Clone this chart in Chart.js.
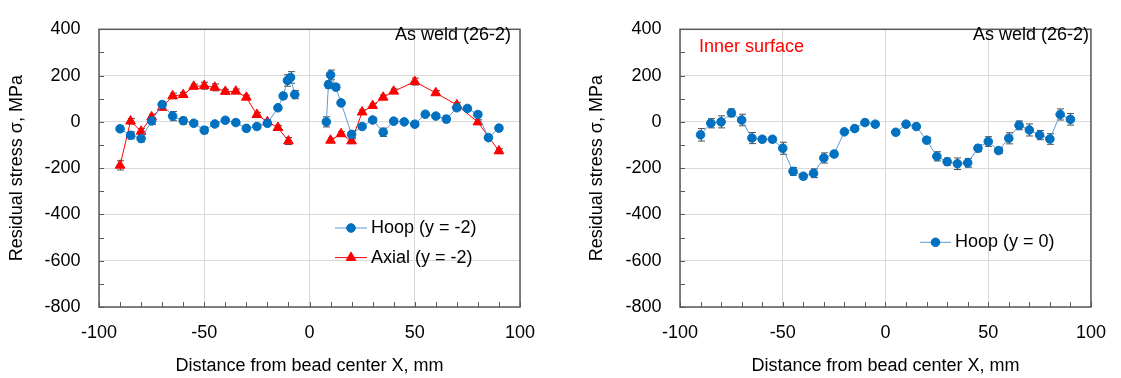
<!DOCTYPE html>
<html>
<head>
<meta charset="utf-8">
<script src="https://cdn.jsdelivr.net/npm/chart.js@4.4.1/dist/chart.umd.min.js"></script>
<style>
  body { margin: 0; background: #fff; }
  #wrap { position: relative; width: 1121px; height: 378px; }
  canvas { position: absolute; top: 0; }
  #left { left: 0; }
  #right { left: 560px; }
</style>
</head>
<body>
<div id="wrap">
  <canvas id="left" width="560" height="378"></canvas>
  <canvas id="right" width="561" height="378"></canvas>
</div>
<script>
// x positions (mm), null marks the gap at the weld bead
var hoopLeftX = [-90, -85, -80, -75, -70, -65, -60, -55, -50, -45, -40, -35, -30, -25, -20, -15, -12.5, -10.5, -9, -7,
    0, 8, 9, 10, 12.5, 15, 20, 25, 30, 35, 40, 45, 50, 55, 60, 65, 70, 75, 80, 85, 90];
var hoopLeftY = [-30, -58, -72, 4, 75, 25, 5, -6, -36, -9, 7, -3, -28, -20, -6, 61, 112, 179, 192, 118,
    null, 0, 161, 203, 150, 82, -54, -20, 8, -45, 3, 0, -10, 33, 25, 12, 61, 58, 32, -68, -27];
var hoopLeftErr = [12, 15, 15, 15, 12, 20, 15, 10, 15, 10, 10, 10, 12, 10, 10, 10, 12, 25, 25, 18,
    0, 22, 15, 21, 12, 10, 15, 10, 10, 18, 10, 10, 10, 10, 10, 15, 10, 10, 10, 10, 10];

var axialLeftX = [-90, -85, -80, -75, -70, -65, -60, -55, -50, -45, -40, -35, -30, -25, -20, -15, -10,
    0, 10, 15, 20, 25, 30, 35, 40, 50, 60, 70, 80, 90];
var axialLeftY = [-188, 3, -41, 21, 62, 112, 117, 153, 156, 149, 131, 132, 106, 31, 0, -25, -83,
    null, -80, -52, -83, 42, 70, 106, 132, 174, 125, 73, -1, -126];
var axialLeftErr = [20, 12, 12, 12, 10, 12, 10, 10, 15, 15, 10, 10, 10, 10, 10, 10, 15,
    0, 10, 10, 10, 10, 10, 10, 10, 15, 10, 10, 10, 10];

var hoopRightX = [-90, -85, -80, -75, -70, -65, -60, -55, -50, -45, -40, -35, -30, -25, -20, -15, -10, -5,
    0, 5, 10, 15, 20, 25, 30, 35, 40, 45, 50, 55, 60, 65, 70, 75, 80, 85, 90];
var hoopRightY = [-56, -6, 0, 39, 8, -70, -75, -75, -114, -214, -235, -222, -156, -139, -43, -29, -3, -10,
    null, -45, -10, -20, -79, -149, -172, -181, -177, -114, -85, -124, -71, -15, -35, -57, -74, 32, 11];
var hoopRightErr = [27, 20, 26, 17, 25, 24, 12, 12, 26, 17, 12, 19, 22, 12, 10, 10, 10, 10,
    0, 10, 10, 10, 12, 20, 15, 25, 19, 15, 21, 12, 24, 19, 26, 20, 23, 24, 25];

var xTicks = [-100, -50, 0, 50, 100];
var yTicks = [-800, -600, -400, -200, 0, 200, 400];

var FONT = 'Liberation Sans, Arial, sans-serif';
var BLUE = '#0070C0';
var BLUE_LINE = '#5b9bd5';
var RED = '#ff0000';

function toPoints(xs, ys) {
    var pts = [];
    for (var i = 0; i < xs.length; i++) {
        pts.push({ x: xs[i], y: ys[i] });
    }
    return pts;
}

function hoopSet(label, xs, ys, errs) {
    return {
        label: label,
        data: toPoints(xs, ys),
        errors: errs,
        borderColor: BLUE_LINE,
        borderWidth: 1,
        backgroundColor: BLUE,
        pointBackgroundColor: BLUE,
        pointBorderColor: BLUE,
        pointBorderWidth: 1,
        pointRadius: 4.3,
        pointStyle: 'circle',
        tension: 0
    };
}

function axialSet(label, xs, ys, errs) {
    return {
        label: label,
        data: toPoints(xs, ys),
        errors: errs,
        borderColor: RED,
        borderWidth: 1,
        backgroundColor: RED,
        pointBackgroundColor: RED,
        pointBorderColor: RED,
        pointBorderWidth: 1,
        pointRadius: 5.6,
        pointStyle: 'triangle',
        tension: 0
    };
}

// frame, inward ticks, error bars, legend and notes
var decorPlugin = {
    id: 'decor',
    beforeDatasetsDraw: function(chart) {
        var ctx = chart.ctx;
        var xs = chart.scales.x, ys = chart.scales.y;
        ctx.save();
        ctx.strokeStyle = '#505050';
        ctx.lineWidth = 1;
        chart.data.datasets.forEach(function(ds) {
            ds.data.forEach(function(p, j) {
                if (p.y === null) return;
                var e = ds.errors[j];
                var px = Math.round(xs.getPixelForValue(p.x)) + 0.5;
                var top = ys.getPixelForValue(p.y + e);
                var bot = ys.getPixelForValue(p.y - e);
                ctx.beginPath();
                ctx.moveTo(px, top); ctx.lineTo(px, bot);
                ctx.moveTo(px - 3.5, top); ctx.lineTo(px + 3.5, top);
                ctx.moveTo(px - 3.5, bot); ctx.lineTo(px + 3.5, bot);
                ctx.stroke();
            });
        });
        ctx.restore();
    },
    afterDraw: function(chart, args, opts) {
        var ctx = chart.ctx, a = chart.chartArea;
        var xs = chart.scales.x, ys = chart.scales.y;
        ctx.save();
        ctx.strokeStyle = '#595959';
        ctx.lineWidth = 1;
        ctx.beginPath();
        xs.ticks.forEach(function(t) {
            var px = Math.round(xs.getPixelForValue(t.value)) + 0.5;
            ctx.moveTo(px, a.bottom); ctx.lineTo(px, a.bottom - 5);
        });
        ys.ticks.forEach(function(t) {
            var py = Math.round(ys.getPixelForValue(t.value)) + 0.5;
            ctx.moveTo(a.left, py); ctx.lineTo(a.left + 5, py);
        });
        ctx.stroke();
        ctx.lineWidth = 1.5;
        ctx.strokeRect(a.left, a.top, a.right - a.left, a.bottom - a.top);

        ctx.font = '18px ' + FONT;
        ctx.textBaseline = 'middle';
        (opts.notes || []).forEach(function(n) {
            ctx.fillStyle = n.color;
            ctx.textAlign = n.align;
            ctx.fillText(n.text, n.x, n.y);
        });

        var lg = opts.legend;
        chart.data.datasets.forEach(function(ds, i) {
            var y = lg.y + i * lg.gap;
            ctx.strokeStyle = ds.borderColor;
            ctx.lineWidth = 1;
            ctx.beginPath();
            ctx.moveTo(lg.x, y); ctx.lineTo(lg.x + lg.len, y);
            ctx.stroke();
            ctx.fillStyle = ds.pointBackgroundColor;
            ctx.strokeStyle = ds.pointBorderColor;
            Chart.helpers.drawPoint(ctx, {
                pointStyle: ds.pointStyle, radius: ds.pointRadius, borderWidth: 1, rotation: 0
            }, lg.x + lg.len / 2, y);
            ctx.fillStyle = '#000';
            ctx.textAlign = 'left';
            ctx.fillText(ds.label, lg.x + lg.len + 4, y);
        });
        ctx.restore();
    }
};

function makeOptions(yWidth, padRight, yTitlePad, notes, legend) {
    return {
        responsive: false,
        animation: false,
        devicePixelRatio: 1,
        layout: { padding: { left: 0, top: 19, right: padRight, bottom: 0 } },
        plugins: {
            legend: { display: false },
            tooltip: { enabled: false },
            decor: { notes: notes, legend: legend }
        },
        scales: {
            x: {
                type: 'linear',
                min: -100, max: 100,
                afterFit: function(s) { s.height = 71; },
                border: { display: false },
                grid: {
                    drawTicks: false,
                    color: function(c) { return c.tick && xTicks.indexOf(c.tick.value) >= 0 ? '#d9d9d9' : 'rgba(0,0,0,0)'; }
                },
                ticks: {
                    stepSize: 10,
                    autoSkip: false,
                    maxRotation: 0,
                    padding: 15,
                    color: '#000',
                    font: { family: FONT, size: 18 },
                    callback: function(v) { return xTicks.indexOf(v) >= 0 ? String(v) : ''; }
                },
                title: {
                    display: true,
                    text: 'Distance from bead center X, mm',
                    color: '#000',
                    font: { family: FONT, size: 18 },
                    padding: { top: 0, bottom: 1 }
                }
            },
            y: {
                min: -800, max: 400,
                afterFit: function(s) { s.width = yWidth; },
                border: { display: false },
                grid: {
                    drawTicks: false,
                    color: function(c) { return c.tick && yTicks.indexOf(c.tick.value) >= 0 ? '#d9d9d9' : 'rgba(0,0,0,0)'; }
                },
                ticks: {
                    stepSize: 100,
                    autoSkip: false,
                    padding: 18.5,
                    color: '#000',
                    font: { family: FONT, size: 18 },
                    callback: function(v) { return yTicks.indexOf(v) >= 0 ? String(v) : ''; }
                },
                title: {
                    display: true,
                    text: 'Residual stress σ, MPa',
                    color: '#000',
                    font: { family: FONT, size: 18 },
                    padding: { top: yTitlePad, bottom: 0 }
                }
            }
        }
    };
}

new Chart(document.getElementById('left').getContext('2d'), {
    type: 'line',
    data: {
        datasets: [
            hoopSet('Hoop (y = -2)', hoopLeftX, hoopLeftY, hoopLeftErr),
            axialSet('Axial (y = -2)', axialLeftX, axialLeftY, axialLeftErr)
        ]
    },
    options: makeOptions(99, 40, 6,
        [{ text: 'As weld (26-2)', x: 511, y: 35, align: 'right', color: '#000' }],
        { x: 335, y: 228, gap: 29.6, len: 32 }),
    plugins: [decorPlugin]
});

new Chart(document.getElementById('right').getContext('2d'), {
    type: 'line',
    data: {
        datasets: [
            hoopSet('Hoop (y = 0)', hoopRightX, hoopRightY, hoopRightErr)
        ]
    },
    options: makeOptions(120, 22, 26,
        [{ text: 'As weld (26-2)', x: 529, y: 35, align: 'right', color: '#000' },
         { text: 'Inner surface', x: 139, y: 47.5, align: 'left', color: '#ff0000' }],
        { x: 360, y: 242.3, gap: 0, len: 31 }),
    plugins: [decorPlugin]
});
</script>
</body>
</html>
